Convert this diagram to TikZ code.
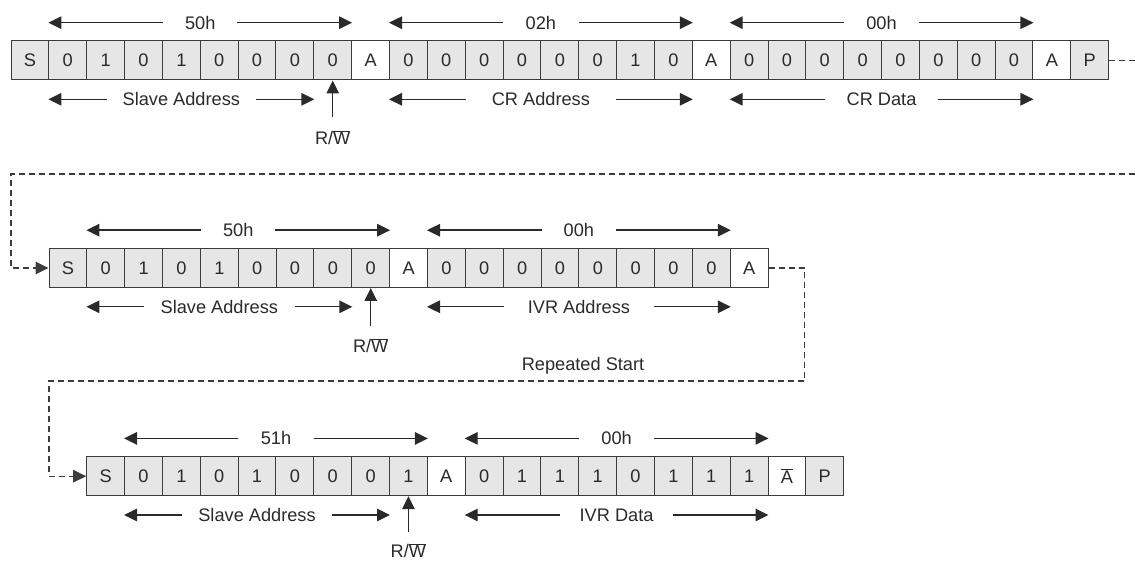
\documentclass[tikz,border=0pt]{standalone}
\usepackage{fontspec}
\setmainfont{Liberation Sans}
\usetikzlibrary{arrows.meta,calc}
\definecolor{g}{HTML}{E6E6E6}
\definecolor{w}{HTML}{FFFFFF}
\definecolor{linegray}{HTML}{3C3C3C}
\definecolor{txt}{HTML}{2A2A2A}
\newcommand\Wbar{\ensuremath{\overline{\hbox{W}}}}
\newcommand\Abar{\ensuremath{\overline{\hbox{A}}}}
\newcommand\rwlabel{R/\Wbar}
% #1 name, #2 left cell, #3 right cell, #4 y offset, #5 gap, #6 text
\newcommand\dimlbl[6]{%
  \path ($(#2.west)!0.5!(#3.east)$) ++(0,#4) node[dimlabel, minimum width=#5pt] (#1) {#6};
  \draw[arr] (#1.west) -- (#1.west -| #2.west);
  \draw[arr] (#1.east) -- (#1.east -| #3.east);
}
\begin{document}
\begin{tikzpicture}[x=1pt,y=-1pt,
  font=\fontsize{18.2}{21}\selectfont, text=txt,
  cell/.style={draw=linegray, line width=1pt, minimum width=37.85pt, minimum height=39pt, inner sep=0pt},
  arr/.style={-{Triangle[length=13pt,width=12.5pt]}, line width=1.4pt, draw=txt},
  dimlabel/.style={inner sep=0pt, minimum height=14pt},
  link/.style={dash pattern=on 6pt off 4pt, line width=1.1pt, draw=linegray},
  linkarr/.style={link, -{Triangle[length=13pt,width=12.5pt]}}]
\useasboundingbox (0,0) rectangle (1135,561);

% Row 1
\foreach \t/\f [count=\i from 0] in {S/g,0/g,1/g,0/g,1/g,0/g,0/g,0/g,0/g,A/w,0/g,0/g,0/g,0/g,0/g,0/g,1/g,0/g,A/w,0/g,0/g,0/g,0/g,0/g,0/g,0/g,0/g,A/w,P/g}
  \node[cell, fill=\f] (r1c\i) at ({11+37.85*(\i+0.5)},60.5) {\t};

% Row 2
\foreach \t/\f [count=\i from 0] in {S/g,0/g,1/g,0/g,1/g,0/g,0/g,0/g,0/g,A/w,0/g,0/g,0/g,0/g,0/g,0/g,0/g,0/g,A/w}
  \node[cell, fill=\f] (r2c\i) at ({49+37.85*(\i+0.5)},268) {\t};

% Row 3
\foreach \t/\f [count=\i from 0] in {S/g,0/g,1/g,0/g,1/g,0/g,0/g,0/g,1/g,A/w,0/g,1/g,1/g,1/g,0/g,1/g,1/g,1/g,\Abar/w,P/g}
  \node[cell, fill=\f] (r3c\i) at ({86.7+37.85*(\i+0.5)},476.2) {\t};

% Dimension arrows row 1
\dimlbl{t1a}{r1c1}{r1c8}{-37.8}{74}{50h}
\dimlbl{b1a}{r1c1}{r1c7}{38.8}{149}{Slave Address}
\dimlbl{t1b}{r1c10}{r1c17}{-37.8}{75}{02h}
\dimlbl{b1b}{r1c10}{r1c17}{38.8}{150}{CR Address}
\dimlbl{t1c}{r1c19}{r1c26}{-37.8}{75}{00h}
\dimlbl{b1c}{r1c19}{r1c26}{38.8}{112}{CR Data}

% Dimension arrows row 2
\dimlbl{t2a}{r2c1}{r2c8}{-37.8}{74}{50h}
\dimlbl{b2a}{r2c1}{r2c7}{38.8}{150}{Slave Address}
\dimlbl{t2b}{r2c10}{r2c17}{-37.8}{74}{00h}
\dimlbl{b2b}{r2c10}{r2c17}{38.8}{150}{IVR Address}

% Dimension arrows row 3
\dimlbl{t3a}{r3c1}{r3c8}{-37.8}{75}{51h}
\dimlbl{b3a}{r3c1}{r3c7}{38.8}{150}{Slave Address}
\dimlbl{t3b}{r3c10}{r3c17}{-37.8}{75}{00h}
\dimlbl{b3b}{r3c10}{r3c17}{38.8}{112}{IVR Data}

% R/W arrows
\coordinate (rw1s) at ($(r1c8.south)+(0,37)$);
\node (rw1) at ($(r1c8.south)+(0,57)$) {\rwlabel};
\draw[arr] (rw1s) -- (r1c8.south);
\coordinate (rw2s) at ($(r2c8.south)+(0,37.5)$);
\node (rw2) at ($(r2c8.south)+(0,57.5)$) {\rwlabel};
\draw[arr] (rw2s) -- (r2c8.south);
\coordinate (rw3s) at ($(r3c8.south)+(0,36)$);
\node (rw3) at ($(r3c8.south)+(0,54.5)$) {\rwlabel};
\draw[arr] (rw3s) -- (r3c8.south);

% Repeated start label
\node (rs) at (583,365.7) {Repeated Start};

% Links
\coordinate (e1) at (1135,60.5);
\draw[link] (r1c28.east) -- (e1);
\coordinate (e2) at (1135,174);
\coordinate (k2) at (11,174);
\draw[linkarr] (e2) -- (k2) |- (r2c0.west);
\coordinate (k3) at (804.7,381);
\coordinate (k4) at (49,381);
\draw[linkarr] (r2c18.east) -| (k3) -- (k4) |- (r3c0.west);
\end{tikzpicture}
\end{document}
